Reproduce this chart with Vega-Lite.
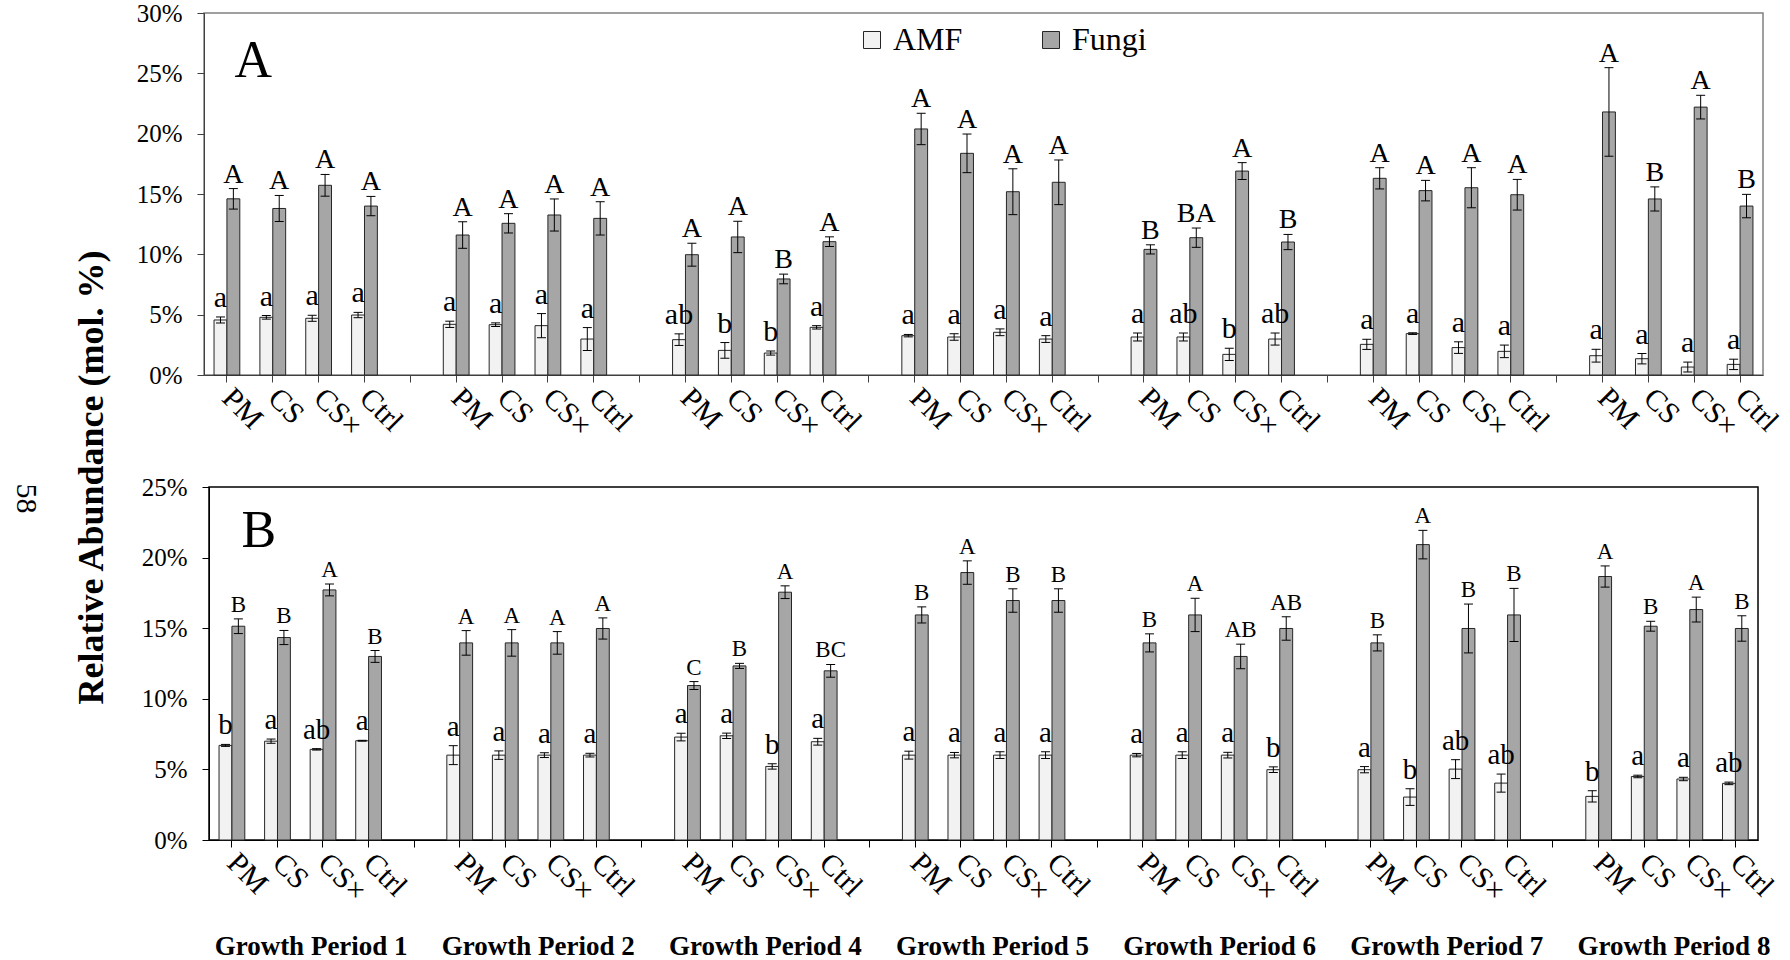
{
  "$schema": "https://vega.github.io/schema/vega-lite/v6.json",
  "background": "white",
  "padding": {"left": 9, "top": 0, "right": 0, "bottom": 0},
  "config": {"font": "Liberation Serif", "text": {"font": "Liberation Serif"}},
  "datasets": {
    "A": [
      {"k":"1|PM","s":"AMF","v":4.56,"lo":4.31,"hi":4.81,"l":"a"},
      {"k":"1|PM","s":"Fungi","v":14.6,"lo":13.75,"hi":15.45,"l":"A"},
      {"k":"1|CS","s":"AMF","v":4.78,"lo":4.63,"hi":4.93,"l":"a"},
      {"k":"1|CS","s":"Fungi","v":13.8,"lo":12.72,"hi":14.88,"l":"A"},
      {"k":"1|CS×","s":"AMF","v":4.7,"lo":4.45,"hi":4.95,"l":"a"},
      {"k":"1|CS×","s":"Fungi","v":15.72,"lo":14.82,"hi":16.62,"l":"A"},
      {"k":"1|Ctrl","s":"AMF","v":4.97,"lo":4.75,"hi":5.19,"l":"a"},
      {"k":"1|Ctrl","s":"Fungi","v":14.0,"lo":13.2,"hi":14.8,"l":"A"},
      {"k":"2|PM","s":"AMF","v":4.2,"lo":3.94,"hi":4.46,"l":"a"},
      {"k":"2|PM","s":"Fungi","v":11.6,"lo":10.5,"hi":12.7,"l":"A"},
      {"k":"2|CS","s":"AMF","v":4.17,"lo":4.02,"hi":4.32,"l":"a"},
      {"k":"2|CS","s":"Fungi","v":12.57,"lo":11.77,"hi":13.37,"l":"A"},
      {"k":"2|CS×","s":"AMF","v":4.09,"lo":3.09,"hi":5.09,"l":"a"},
      {"k":"2|CS×","s":"Fungi","v":13.26,"lo":11.93,"hi":14.59,"l":"A"},
      {"k":"2|Ctrl","s":"AMF","v":2.98,"lo":2.03,"hi":3.93,"l":"a"},
      {"k":"2|Ctrl","s":"Fungi","v":12.98,"lo":11.6,"hi":14.36,"l":"A"},
      {"k":"4|PM","s":"AMF","v":2.93,"lo":2.45,"hi":3.41,"l":"ab"},
      {"k":"4|PM","s":"Fungi","v":9.97,"lo":9.02,"hi":10.92,"l":"A"},
      {"k":"4|CS","s":"AMF","v":2.04,"lo":1.39,"hi":2.69,"l":"b"},
      {"k":"4|CS","s":"Fungi","v":11.44,"lo":10.14,"hi":12.74,"l":"A"},
      {"k":"4|CS×","s":"AMF","v":1.82,"lo":1.65,"hi":1.99,"l":"b"},
      {"k":"4|CS×","s":"Fungi","v":7.96,"lo":7.56,"hi":8.36,"l":"B"},
      {"k":"4|Ctrl","s":"AMF","v":3.95,"lo":3.81,"hi":4.09,"l":"a"},
      {"k":"4|Ctrl","s":"Fungi","v":11.05,"lo":10.65,"hi":11.45,"l":"A"},
      {"k":"5|PM","s":"AMF","v":3.26,"lo":3.16,"hi":3.36,"l":"a"},
      {"k":"5|PM","s":"Fungi","v":20.39,"lo":19.09,"hi":21.69,"l":"A"},
      {"k":"5|CS","s":"AMF","v":3.15,"lo":2.88,"hi":3.42,"l":"a"},
      {"k":"5|CS","s":"Fungi","v":18.37,"lo":16.77,"hi":19.97,"l":"A"},
      {"k":"5|CS×","s":"AMF","v":3.54,"lo":3.26,"hi":3.82,"l":"a"},
      {"k":"5|CS×","s":"Fungi","v":15.19,"lo":13.29,"hi":17.09,"l":"A"},
      {"k":"5|Ctrl","s":"AMF","v":2.98,"lo":2.7,"hi":3.26,"l":"a"},
      {"k":"5|Ctrl","s":"Fungi","v":15.97,"lo":14.12,"hi":17.82,"l":"A"},
      {"k":"6|PM","s":"AMF","v":3.15,"lo":2.82,"hi":3.48,"l":"a"},
      {"k":"6|PM","s":"Fungi","v":10.41,"lo":10.03,"hi":10.79,"l":"B"},
      {"k":"6|CS","s":"AMF","v":3.15,"lo":2.82,"hi":3.48,"l":"ab"},
      {"k":"6|CS","s":"Fungi","v":11.38,"lo":10.58,"hi":12.18,"l":"BA"},
      {"k":"6|CS×","s":"AMF","v":1.71,"lo":1.21,"hi":2.21,"l":"b"},
      {"k":"6|CS×","s":"Fungi","v":16.9,"lo":16.2,"hi":17.6,"l":"A"},
      {"k":"6|Ctrl","s":"AMF","v":2.98,"lo":2.48,"hi":3.48,"l":"ab"},
      {"k":"6|Ctrl","s":"Fungi","v":11.02,"lo":10.39,"hi":11.65,"l":"B"},
      {"k":"7|PM","s":"AMF","v":2.54,"lo":2.12,"hi":2.96,"l":"a"},
      {"k":"7|PM","s":"Fungi","v":16.3,"lo":15.42,"hi":17.18,"l":"A"},
      {"k":"7|CS","s":"AMF","v":3.43,"lo":3.36,"hi":3.5,"l":"a"},
      {"k":"7|CS","s":"Fungi","v":15.28,"lo":14.43,"hi":16.13,"l":"A"},
      {"k":"7|CS×","s":"AMF","v":2.27,"lo":1.79,"hi":2.75,"l":"a"},
      {"k":"7|CS×","s":"Fungi","v":15.52,"lo":13.86,"hi":17.18,"l":"A"},
      {"k":"7|Ctrl","s":"AMF","v":1.96,"lo":1.44,"hi":2.48,"l":"a"},
      {"k":"7|Ctrl","s":"Fungi","v":14.94,"lo":13.67,"hi":16.21,"l":"A"},
      {"k":"8|PM","s":"AMF","v":1.6,"lo":1.07,"hi":2.13,"l":"a"},
      {"k":"8|PM","s":"Fungi","v":21.8,"lo":18.13,"hi":25.47,"l":"A"},
      {"k":"8|CS","s":"AMF","v":1.35,"lo":0.92,"hi":1.78,"l":"a"},
      {"k":"8|CS","s":"Fungi","v":14.59,"lo":13.59,"hi":15.59,"l":"B"},
      {"k":"8|CS×","s":"AMF","v":0.66,"lo":0.25,"hi":1.07,"l":"a"},
      {"k":"8|CS×","s":"Fungi","v":22.2,"lo":21.22,"hi":23.18,"l":"A"},
      {"k":"8|Ctrl","s":"AMF","v":0.88,"lo":0.45,"hi":1.31,"l":"a"},
      {"k":"8|Ctrl","s":"Fungi","v":14.0,"lo":13.03,"hi":14.97,"l":"B"}
    ],
    "B": [
      {"k":"1|PM","s":"AMF","v":6.7,"lo":6.63,"hi":6.77,"l":"b"},
      {"k":"1|PM","s":"Fungi","v":15.14,"lo":14.62,"hi":15.66,"l":"B"},
      {"k":"1|CS","s":"AMF","v":7.0,"lo":6.85,"hi":7.15,"l":"a"},
      {"k":"1|CS","s":"Fungi","v":14.34,"lo":13.84,"hi":14.84,"l":"B"},
      {"k":"1|CS×","s":"AMF","v":6.42,"lo":6.37,"hi":6.47,"l":"ab"},
      {"k":"1|CS×","s":"Fungi","v":17.71,"lo":17.29,"hi":18.13,"l":"A"},
      {"k":"1|Ctrl","s":"AMF","v":7.03,"lo":7.0,"hi":7.06,"l":"a"},
      {"k":"1|Ctrl","s":"Fungi","v":13.0,"lo":12.58,"hi":13.42,"l":"B"},
      {"k":"2|PM","s":"AMF","v":6.01,"lo":5.34,"hi":6.68,"l":"a"},
      {"k":"2|PM","s":"Fungi","v":13.96,"lo":13.09,"hi":14.83,"l":"A"},
      {"k":"2|CS","s":"AMF","v":6.01,"lo":5.71,"hi":6.31,"l":"a"},
      {"k":"2|CS","s":"Fungi","v":13.96,"lo":13.02,"hi":14.9,"l":"A"},
      {"k":"2|CS×","s":"AMF","v":6.01,"lo":5.84,"hi":6.18,"l":"a"},
      {"k":"2|CS×","s":"Fungi","v":13.96,"lo":13.16,"hi":14.76,"l":"A"},
      {"k":"2|Ctrl","s":"AMF","v":6.01,"lo":5.88,"hi":6.14,"l":"a"},
      {"k":"2|Ctrl","s":"Fungi","v":14.98,"lo":14.23,"hi":15.73,"l":"A"},
      {"k":"4|PM","s":"AMF","v":7.29,"lo":7.02,"hi":7.56,"l":"a"},
      {"k":"4|PM","s":"Fungi","v":10.94,"lo":10.66,"hi":11.22,"l":"C"},
      {"k":"4|CS","s":"AMF","v":7.38,"lo":7.19,"hi":7.57,"l":"a"},
      {"k":"4|CS","s":"Fungi","v":12.33,"lo":12.15,"hi":12.51,"l":"B"},
      {"k":"4|CS×","s":"AMF","v":5.21,"lo":5.02,"hi":5.4,"l":"b"},
      {"k":"4|CS×","s":"Fungi","v":17.55,"lo":17.1,"hi":18.0,"l":"A"},
      {"k":"4|Ctrl","s":"AMF","v":6.96,"lo":6.72,"hi":7.2,"l":"a"},
      {"k":"4|Ctrl","s":"Fungi","v":11.98,"lo":11.53,"hi":12.43,"l":"BC"},
      {"k":"5|PM","s":"AMF","v":6.01,"lo":5.73,"hi":6.29,"l":"a"},
      {"k":"5|PM","s":"Fungi","v":15.94,"lo":15.37,"hi":16.51,"l":"B"},
      {"k":"5|CS","s":"AMF","v":6.01,"lo":5.82,"hi":6.2,"l":"a"},
      {"k":"5|CS","s":"Fungi","v":18.94,"lo":18.11,"hi":19.77,"l":"A"},
      {"k":"5|CS×","s":"AMF","v":6.01,"lo":5.77,"hi":6.25,"l":"a"},
      {"k":"5|CS×","s":"Fungi","v":16.96,"lo":16.13,"hi":17.79,"l":"B"},
      {"k":"5|Ctrl","s":"AMF","v":6.01,"lo":5.77,"hi":6.25,"l":"a"},
      {"k":"5|Ctrl","s":"Fungi","v":16.96,"lo":16.13,"hi":17.79,"l":"B"},
      {"k":"6|PM","s":"AMF","v":6.01,"lo":5.89,"hi":6.13,"l":"a"},
      {"k":"6|PM","s":"Fungi","v":13.96,"lo":13.32,"hi":14.6,"l":"B"},
      {"k":"6|CS","s":"AMF","v":6.01,"lo":5.77,"hi":6.25,"l":"a"},
      {"k":"6|CS","s":"Fungi","v":15.94,"lo":14.76,"hi":17.12,"l":"A"},
      {"k":"6|CS×","s":"AMF","v":6.01,"lo":5.81,"hi":6.21,"l":"a"},
      {"k":"6|CS×","s":"Fungi","v":13.0,"lo":12.13,"hi":13.87,"l":"AB"},
      {"k":"6|Ctrl","s":"AMF","v":4.98,"lo":4.78,"hi":5.18,"l":"b"},
      {"k":"6|Ctrl","s":"Fungi","v":14.98,"lo":14.15,"hi":15.81,"l":"AB"},
      {"k":"7|PM","s":"AMF","v":4.98,"lo":4.76,"hi":5.2,"l":"a"},
      {"k":"7|PM","s":"Fungi","v":13.96,"lo":13.39,"hi":14.53,"l":"B"},
      {"k":"7|CS","s":"AMF","v":3.04,"lo":2.45,"hi":3.63,"l":"b"},
      {"k":"7|CS","s":"Fungi","v":20.92,"lo":19.91,"hi":21.93,"l":"A"},
      {"k":"7|CS×","s":"AMF","v":5.02,"lo":4.35,"hi":5.69,"l":"ab"},
      {"k":"7|CS×","s":"Fungi","v":14.98,"lo":13.25,"hi":16.71,"l":"B"},
      {"k":"7|Ctrl","s":"AMF","v":4.03,"lo":3.39,"hi":4.67,"l":"ab"},
      {"k":"7|Ctrl","s":"Fungi","v":15.94,"lo":14.06,"hi":17.82,"l":"B"},
      {"k":"8|PM","s":"AMF","v":3.09,"lo":2.69,"hi":3.49,"l":"b"},
      {"k":"8|PM","s":"Fungi","v":18.66,"lo":17.91,"hi":19.41,"l":"A"},
      {"k":"8|CS","s":"AMF","v":4.5,"lo":4.41,"hi":4.59,"l":"a"},
      {"k":"8|CS","s":"Fungi","v":15.14,"lo":14.79,"hi":15.49,"l":"B"},
      {"k":"8|CS×","s":"AMF","v":4.32,"lo":4.2,"hi":4.44,"l":"a"},
      {"k":"8|CS×","s":"Fungi","v":16.32,"lo":15.44,"hi":17.2,"l":"A"},
      {"k":"8|Ctrl","s":"AMF","v":4.01,"lo":3.92,"hi":4.1,"l":"ab"},
      {"k":"8|Ctrl","s":"Fungi","v":14.98,"lo":14.08,"hi":15.88,"l":"B"}
    ],
    "P": [
      {"name":"Growth Period 1"},{"name":"Growth Period 2"},{"name":"Growth Period 4"},{"name":"Growth Period 5"},{"name":"Growth Period 6"},{"name":"Growth Period 7"},{"name":"Growth Period 8"}
    ]
  },
  "vconcat": [
    {
      "width": 1559, "height": 362,
      "view": {"stroke": "#808080", "strokeWidth": 1.5},
      "data": {"name": "A"},
      "encoding": {
        "x": {"field": "k", "type": "nominal",
          "scale": {"domain": ["1|PM","1|CS","1|CS×","1|Ctrl","g1","2|PM","2|CS","2|CS×","2|Ctrl","g2","4|PM","4|CS","4|CS×","4|Ctrl","g4","5|PM","5|CS","5|CS×","5|Ctrl","g5","6|PM","6|CS","6|CS×","6|Ctrl","g6","7|PM","7|CS","7|CS×","7|Ctrl","g7","8|PM","8|CS","8|CS×","8|Ctrl"], "paddingInner": 0, "paddingOuter": 0},
          "axis": {"title": null, "labelExpr": "indexof(datum.value, '|') > 0 ? split(datum.value, '|')[1] : ''", "labelAngle": 45, "labelAlign": "left", "labelBaseline": "middle", "labelFont": "Liberation Serif", "labelFontSize": 30, "labelColor": "black", "labelPadding": 11, "labelOverlap": false, "labelBound": false, "labelFlush": false, "tickSize": 7, "tickColor": "#404040", "domainColor": "#404040", "grid": false}},
        "xOffset": {"field": "s", "type": "nominal", "scale": {"domain": ["AMF","Fungi"], "paddingInner": 0, "paddingOuter": 0.78}}
      },
      "layer": [
        {"mark": {"type": "bar", "stroke": "#262626", "strokeWidth": 1},
         "encoding": {
           "y": {"field": "v", "type": "quantitative", "scale": {"domain": [0, 30], "nice": false},
             "axis": {"title": "Relative Abundance (mol. %)", "titleX": -113, "titleY": 464, "titleAngle": -90, "titleAlign": "center", "titleBaseline": "middle", "titleFont": "Liberation Serif", "titleFontSize": 36, "titleFontWeight": "bold", "titleColor": "black", "values": [0,5,10,15,20,25,30], "labelExpr": "datum.value + '%'", "labelFont": "Liberation Serif", "labelFontSize": 25, "labelColor": "black", "labelPadding": 15, "tickSize": 7, "tickColor": "#404040", "domainColor": "#404040", "grid": false}},
           "color": {"field": "s", "type": "nominal", "scale": {"domain": ["AMF","Fungi"], "range": ["#f2f2f2","#a6a6a6"]},
             "legend": {"orient": "none", "legendX": 652, "legendY": 11, "direction": "horizontal", "title": null, "labelFont": "Liberation Serif", "labelFontSize": 32, "labelColor": "black", "symbolType": "square", "symbolSize": 289, "symbolStrokeColor": "#262626", "symbolStrokeWidth": 1, "symbolOpacity": 1, "columnPadding": 72, "labelOffset": 5, "padding": 0}}
         }},
        {"mark": {"type": "rule", "color": "black", "strokeWidth": 1},
         "encoding": {"y": {"field": "lo", "type": "quantitative", "scale": {"domain": [0, 30], "nice": false}}, "y2": {"field": "hi"}}},
        {"mark": {"type": "tick", "orient": "horizontal", "size": 9, "thickness": 1, "color": "black", "opacity": 1},
         "encoding": {"y": {"field": "lo", "type": "quantitative", "scale": {"domain": [0, 30], "nice": false}}}},
        {"mark": {"type": "tick", "orient": "horizontal", "size": 9, "thickness": 1, "color": "black", "opacity": 1},
         "encoding": {"y": {"field": "hi", "type": "quantitative", "scale": {"domain": [0, 30], "nice": false}}}},
        {"transform": [{"filter": "datum.s === 'AMF'"}],
         "mark": {"type": "text", "baseline": "alphabetic", "dy": -10, "font": "Liberation Serif", "fontSize": 30, "color": "black"},
         "encoding": {"y": {"field": "hi", "type": "quantitative", "scale": {"domain": [0, 30], "nice": false}}, "text": {"field": "l"}}},
        {"transform": [{"filter": "datum.s === 'Fungi'"}],
         "mark": {"type": "text", "baseline": "alphabetic", "dy": -6, "font": "Liberation Serif", "fontSize": 28, "color": "black"},
         "encoding": {"y": {"field": "hi", "type": "quantitative", "scale": {"domain": [0, 30], "nice": false}}, "text": {"field": "l"}}},
        {"transform": [{"filter": "datum.k === '1|PM' && datum.s === 'AMF'"}],
         "mark": {"type": "text", "align": "left", "baseline": "alphabetic", "dx": 14, "font": "Liberation Serif", "fontSize": 52, "color": "black"},
         "encoding": {"y": {"datum": 24.7, "type": "quantitative", "scale": {"domain": [0, 30], "nice": false}}, "text": {"value": "A"}}}
      ]
    },
    {
      "width": 1549, "height": 353,
      "view": {"stroke": "black", "strokeWidth": 1.5},
      "data": {"name": "B"},
      "encoding": {
        "x": {"field": "k", "type": "nominal",
          "scale": {"domain": ["1|PM","1|CS","1|CS×","1|Ctrl","g1","2|PM","2|CS","2|CS×","2|Ctrl","g2","4|PM","4|CS","4|CS×","4|Ctrl","g4","5|PM","5|CS","5|CS×","5|Ctrl","g5","6|PM","6|CS","6|CS×","6|Ctrl","g6","7|PM","7|CS","7|CS×","7|Ctrl","g7","8|PM","8|CS","8|CS×","8|Ctrl"], "paddingInner": 0, "paddingOuter": 0},
          "axis": {"title": null, "labelExpr": "indexof(datum.value, '|') > 0 ? split(datum.value, '|')[1] : ''", "labelAngle": 45, "labelAlign": "left", "labelBaseline": "middle", "labelFont": "Liberation Serif", "labelFontSize": 30, "labelColor": "black", "labelPadding": 11, "labelOverlap": false, "labelBound": false, "labelFlush": false, "tickSize": 7, "tickColor": "black", "domainColor": "black", "grid": false}},
        "xOffset": {"field": "s", "type": "nominal", "scale": {"domain": ["AMF","Fungi"], "paddingInner": 0, "paddingOuter": 0.78}}
      },
      "layer": [
        {"mark": {"type": "bar", "stroke": "#262626", "strokeWidth": 1},
         "encoding": {
           "y": {"field": "v", "type": "quantitative", "scale": {"domain": [0, 25], "nice": false},
             "axis": {"title": "58", "titleX": -184, "titleY": 11, "titleAngle": 90, "titleAlign": "center", "titleBaseline": "middle", "titleFont": "Liberation Serif", "titleFontSize": 30, "titleFontWeight": "normal", "titleColor": "black", "values": [0,5,10,15,20,25], "labelExpr": "datum.value + '%'", "labelFont": "Liberation Serif", "labelFontSize": 25, "labelColor": "black", "labelPadding": 15, "tickSize": 7, "tickColor": "black", "domainColor": "black", "grid": false}},
           "color": {"field": "s", "type": "nominal", "scale": {"domain": ["AMF","Fungi"], "range": ["#f2f2f2","#a6a6a6"]}, "legend": null}
         }},
        {"mark": {"type": "rule", "color": "black", "strokeWidth": 1},
         "encoding": {"y": {"field": "lo", "type": "quantitative", "scale": {"domain": [0, 25], "nice": false}}, "y2": {"field": "hi"}}},
        {"mark": {"type": "tick", "orient": "horizontal", "size": 9, "thickness": 1, "color": "black", "opacity": 1},
         "encoding": {"y": {"field": "lo", "type": "quantitative", "scale": {"domain": [0, 25], "nice": false}}}},
        {"mark": {"type": "tick", "orient": "horizontal", "size": 9, "thickness": 1, "color": "black", "opacity": 1},
         "encoding": {"y": {"field": "hi", "type": "quantitative", "scale": {"domain": [0, 25], "nice": false}}}},
        {"transform": [{"filter": "datum.s === 'AMF'"}],
         "mark": {"type": "text", "baseline": "alphabetic", "dy": -10, "font": "Liberation Serif", "fontSize": 29, "color": "black"},
         "encoding": {"y": {"field": "hi", "type": "quantitative", "scale": {"domain": [0, 25], "nice": false}}, "text": {"field": "l"}}},
        {"transform": [{"filter": "datum.s === 'Fungi'"}],
         "mark": {"type": "text", "baseline": "alphabetic", "dy": -7, "font": "Liberation Serif", "fontSize": 23, "color": "black"},
         "encoding": {"y": {"field": "hi", "type": "quantitative", "scale": {"domain": [0, 25], "nice": false}}, "text": {"field": "l"}}},
        {"transform": [{"filter": "datum.k === '1|PM' && datum.s === 'AMF'"}],
         "mark": {"type": "text", "align": "left", "baseline": "alphabetic", "dx": 16, "font": "Liberation Serif", "fontSize": 52, "color": "black"},
         "encoding": {"y": {"datum": 20.75, "type": "quantitative", "scale": {"domain": [0, 25], "nice": false}}, "text": {"value": "B"}}}
      ]
    },
    {
      "width": 1549, "height": 10,
      "view": {"stroke": null},
      "data": {"name": "P"},
      "mark": {"type": "text", "font": "Liberation Serif", "fontSize": 27, "fontWeight": "bold", "color": "black", "baseline": "middle", "dy": -10, "dx": 9},
      "encoding": {
        "x": {"field": "name", "type": "nominal", "sort": null, "scale": {"type": "point", "padding": 0.41}, "axis": null},
        "text": {"field": "name"}
      }
    }
  ],
  "spacing": 112,
  "bounds": "flush",
  "center": true,
  "resolve": {"scale": {"x": "independent", "y": "independent", "color": "independent"}, "legend": {"color": "independent"}}
}
